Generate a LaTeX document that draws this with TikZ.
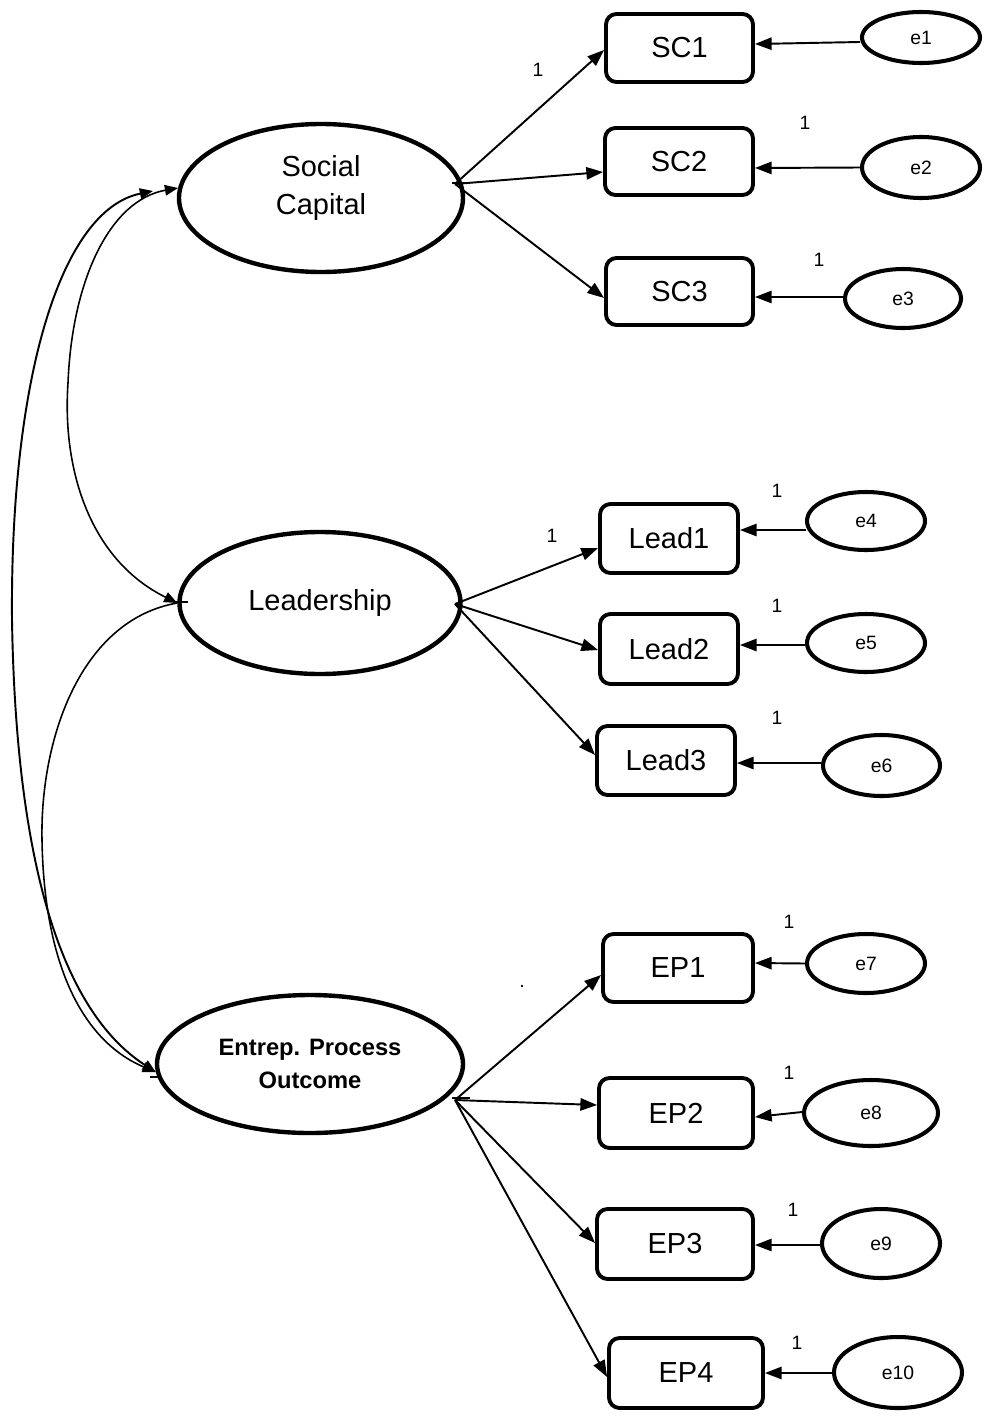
\documentclass[tikz,border=0pt]{standalone}
\usepackage{fontspec}
\setmainfont{Liberation Sans}
\usetikzlibrary{arrows.meta,shapes.geometric,calc}
\newlength{\upx}\setlength{\upx}{0.02cm}

\begin{document}
\begin{tikzpicture}[x=0.02cm,y=-0.02cm,
  arr/.style={-{Triangle[length=9.5pt,width=7pt]}},
  covarr/.style={-{Triangle[length=7.5pt,width=6pt]}},
  covtips/.style={{Triangle[length=7.5pt,width=6pt]}-{Triangle[length=7.5pt,width=6pt]}},
  latent/.style n args={2}{draw, ellipse, line width=2.5pt, inner sep=0pt,
    minimum width=#1*\upx, minimum height=#2*\upx, align=center,
    font=\fontsize{16.5}{21.5}\selectfont},
  obs/.style n args={2}{draw, rounded corners=6pt, line width=2.2pt, inner sep=0pt,
    minimum width=#1*\upx, minimum height=#2*\upx,
    font=\fontsize{16.5}{19}\selectfont},
  err/.style n args={2}{draw, ellipse, line width=2.3pt, inner sep=0pt,
    minimum width=#1*\upx, minimum height=#2*\upx,
    font=\fontsize{11}{13}\selectfont},
  one/.style={font=\fontsize{11}{13}\selectfont, inner sep=0pt},
  load/.style={arr, line width=1.1pt},
  cov/.style={line width=0.9pt},
  stub/.style={line width=1.1pt},
]
\useasboundingbox (0,0) rectangle (986,1416);

% latent variables
\node[latent={284}{148}] (SC) at (321,198) {};
\node[font=\fontsize{16.5}{21.5}\selectfont, align=center] (SCt) at (321,188) {Social\\Capital};
\node[latent={281}{142}] (LD) at (320,603) {Leadership};
\node[latent={306}{138}, font=\bfseries\fontsize{13.5}{18.7}\selectfont] (EP) at (310,1064) {Entrep. Process\\Outcome};

% indicators
\node[obs={147}{68}] (SC1) at (679.5,48) {SC1};
\node[obs={148}{67}] (SC2) at (679,161.5) {SC2};
\node[obs={147}{67}] (SC3) at (679.5,291.5) {SC3};
\node[obs={138}{69}] (L1) at (669,538.5) {Lead1};
\node[obs={138}{70}] (L2) at (669,649) {Lead2};
\node[obs={138}{69}] (L3) at (666,760.5) {Lead3};
\node[obs={150}{68}] (EP1) at (678,968) {EP1};
\node[obs={154}{70}] (EP2) at (676,1113) {EP2};
\node[obs={156}{70}] (EP3) at (675,1244) {EP3};
\node[obs={154}{70}] (EP4) at (686,1373) {EP4};

% error terms
\node[err={118}{51}] (e1) at (921,37.5) {e1};
\node[err={118}{61}] (e2) at (921,167.5) {e2};
\node[err={116}{59}] (e3) at (903,298.5) {e3};
\node[err={118}{58}] (e4) at (866,521) {e4};
\node[err={118}{58}] (e5) at (866,643) {e5};
\node[err={117}{61}] (e6) at (881.5,765.5) {e6};
\node[err={118}{59}] (e7) at (866,963.5) {e7};
\node[err={134}{66}] (e8) at (871,1113) {e8};
\node[err={118}{69}] (e9) at (881,1243.5) {e9};
\node[err={128}{71}] (e10) at (898,1372.5) {e10};

% loading origins
\coordinate (scS) at (455,184);
\coordinate (ldS) at (455,604);
\coordinate (epS) at (455,1100);

% factor loadings
\draw[load] (scS) -- ($(SC1.west)+(0,2)$);
\draw[load] (scS) -- ($(SC2.west)+(0,10.5)$);
\draw[load] (scS) -- ($(SC3.west)+(0,6.5)$);
\draw[load] (ldS) -- ($(L1.west)+(0,9.5)$);
\draw[load] (ldS) -- ($(L2.west)+(0,1)$);
\draw[load] (ldS) -- ($(L3.west)+(0,-5.5)$);
\draw[load] (epS) -- ($(EP1.west)+(0,7)$);
\draw[load] (epS) -- ($(EP2.west)+(0,-8)$);
\draw[load] (epS) -- ($(EP3.west)+(0,-1)$);
\draw[load] (epS) -- ($(EP4.west)+(0,4)$);

% error paths
\draw[load] ($(e1.west)+(0,4.5)$) -- ($(SC1.east)+(0,-4)$);
\draw[load] (e2.west) -- ($(SC2.east)+(0,6.5)$);
\draw[load] ($(e3.west)+(0,-1.5)$) -- ($(SC3.east)+(0,5.5)$);
\draw[load] ($(e4.west)+(1,9)$) -- ($(L1.east)+(0,-8.5)$);
\draw[load] ($(e5.west)+(0,2)$) -- ($(L2.east)+(0,-4)$);
\draw[load] ($(e6.west)+(0,-2.5)$) -- ($(L3.east)+(0,2.5)$);
\draw[load] (e7.west) -- ($(EP1.east)+(0,-5)$);
\draw[load] ($(e8.west)+(0,-1)$) -- ($(EP2.east)+(0,4)$);
\draw[load] ($(e9.west)+(0,1.5)$) -- ($(EP3.east)+(0,1)$);
\draw[load] ($(e10.west)+(0,0.5)$) -- (EP4.east);

% small stubs at the latent borders
\draw[stub] (452,183) -- (465,183);
\draw[stub] (173,602) -- (188,602);
\draw[stub] (150,1077) -- (162,1077);
\draw[stub] (452,1098) -- (470,1098);

% covariances
\coordinate (scOut) at (153,191);
\draw[cov, covtips] (LD.west) .. controls (90,560) and (62,470) .. (68,383)
  .. controls (72,280) and (110,200) .. (SC.176);
\draw[cov, covtips, line width=1.1pt] (scOut) .. controls (60,210) and (10,380) .. (12,620)
  .. controls (16,860) and (60,1010) .. (EP.183);
\draw[cov, covarr] (LD.west) .. controls (80,620) and (40,740) .. (42,840)
  .. controls (44,960) and (80,1040) .. (EP.183);

% fixed loadings
\node[one] (w1) at (538,70) {1};
\node[one] (w2) at (552,536) {1};
\node[one] (w3) at (805,123) {1};
\node[one] (w4) at (819,260) {1};
\node[one] (w5) at (777,491) {1};
\node[one] (w6) at (777,606) {1};
\node[one] (w7) at (777,718) {1};
\node[one] (w8) at (789,922) {1};
\node[one] (w9) at (789,1073) {1};
\node[one] (w10) at (793,1210) {1};
\node[one] (w11) at (797,1343) {1};
\node[one] (dot) at (522,986) {.};
\end{tikzpicture}
\end{document}
